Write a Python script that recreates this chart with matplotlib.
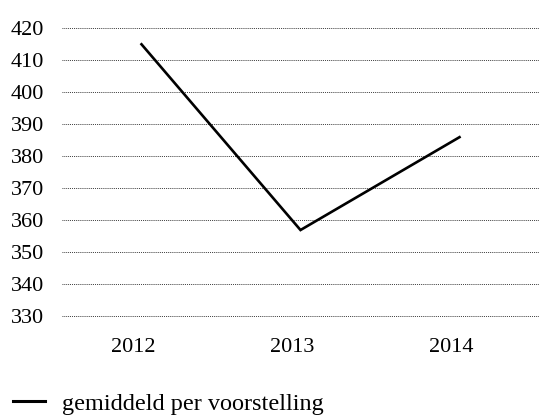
import matplotlib
matplotlib.use("Agg")
import matplotlib.pyplot as plt
import matplotlib.transforms as mtransforms

# data
jaren = ["2012", "2013", "2014"]
gemiddeld = [415, 357, 386]
yticks = [330, 340, 350, 360, 370, 380, 390, 400, 410, 420]

plt.rcParams["font.family"] = ["Liberation Serif", "DejaVu Serif"]

fig = plt.figure(figsize=(5.39, 4.16), dpi=100)
ax = fig.add_axes([62 / 539, 0.2238, 1 - 62 / 539, 0.7236])

x = list(range(len(jaren)))
ax.plot(x, gemiddeld, color="black", lw=1.9, solid_joinstyle="miter",
        label="gemiddeld per voorstelling")

ax.set_xlim(-0.5, 2.5)
ax.set_ylim(328, 422)
ax.set_xticks(x, jaren)
ax.set_yticks(yticks)
ax.tick_params(length=0, labelsize=16)
ax.tick_params(axis="y", pad=13)
ax.tick_params(axis="x", pad=11)
ax.grid(axis="y", color="black", lw=0.6, ls=(0, (1, 1.3)))
ax.set_axisbelow(True)
for s in ax.spines.values():
    s.set_visible(False)

# the year labels sit a little left of the data points in the original
shift = mtransforms.ScaledTranslation(-8 / 100, 0, fig.dpi_scale_trans)
for lab in ax.get_xticklabels():
    lab.set_transform(lab.get_transform() + shift)

leg = fig.legend(loc="lower left", bbox_to_anchor=(0.021, 0.0), frameon=False,
                 fontsize=17.5, handlelength=1.35, handletextpad=0.7,
                 borderaxespad=0, borderpad=0.05)
for h in leg.get_lines():
    h.set_linewidth(2.2)

fig.savefig("out.png", dpi=100)
